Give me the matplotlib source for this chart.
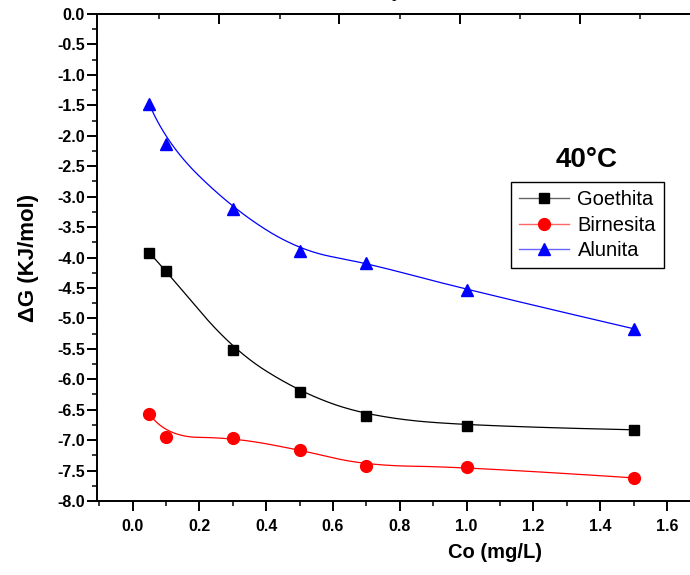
import numpy as np
import matplotlib
matplotlib.use("Agg")
import matplotlib.pyplot as plt
from matplotlib.lines import Line2D
from matplotlib.legend_handler import HandlerTuple
from matplotlib.ticker import MultipleLocator, FixedLocator, NullFormatter, FormatStrFormatter

# ---- data ----
co = [0.05, 0.1, 0.3, 0.5, 0.7, 1.0, 1.5]
goethita = [-3.92, -4.22, -5.52, -6.21, -6.60, -6.77, -6.83]
birnesita = [-6.57, -6.95, -6.96, -7.16, -7.42, -7.44, -7.62]
alunita = [-1.48, -2.13, -3.20, -3.89, -4.09, -4.53, -5.17]
labels = ["Goethita", "Birnesita", "Alunita"]
title_text = "40°C"


def bspline(xs, ys, n=400, k=3):
    P = np.column_stack([xs, ys])
    m = len(P)
    knots = np.concatenate([np.zeros(k), np.linspace(0, 1, m - k + 1), np.ones(k)])
    t = np.linspace(0, 1, n)
    t[-1] = 1 - 1e-10
    B = np.zeros((n, len(knots) - 1))
    for i in range(len(knots) - 1):
        B[:, i] = (t >= knots[i]) & (t < knots[i + 1])
    for d in range(1, k + 1):
        Bn = np.zeros((n, len(knots) - 1 - d))
        for i in range(len(knots) - 1 - d):
            a = knots[i + d] - knots[i]
            b = knots[i + d + 1] - knots[i + 1]
            term = np.zeros(n)
            if a > 0:
                term += (t - knots[i]) / a * B[:, i]
            if b > 0:
                term += (knots[i + d + 1] - t) / b * B[:, i + 1]
            Bn[:, i] = term
        B = Bn
    C = B @ P
    return C[:, 0], C[:, 1]


plt.rcParams['font.family'] = ['Liberation Sans', 'DejaVu Sans']

W, H = 690, 575
fig = plt.figure(figsize=(W / 100, H / 100), dpi=100)
ax_left_px, ax_right_px = 97.5, 697
ax_w_px = ax_right_px - ax_left_px
ax = fig.add_axes([ax_left_px / W, 1 - 501 / H, ax_w_px / W, (501 - 14) / H])

series = [(goethita, 'black', 's', 7.5), (birnesita, 'red', 'o', 8.5), (alunita, 'blue', '^', 9)]
handles = []
for (vals, col, mk, ms), lab in zip(series, labels):
    sx, sy = bspline(co, vals, k=2)
    ax.plot(sx, sy, color=col, lw=0.9, zorder=2)
    ax.plot(co, vals, linestyle='none', marker=mk, color=col, markersize=ms, zorder=3)
    h_line = Line2D([], [], color=col, lw=1.0, alpha=0.6)
    h_mark = Line2D([], [], color=col, linestyle='none', marker=mk, markersize=ms)
    handles.append((h_line, h_mark))

ax.set_xlim(-0.105, 1.69)
ax.set_ylim(-8.0, 0.0)
ax.xaxis.set_major_locator(MultipleLocator(0.2))
ax.xaxis.set_minor_locator(MultipleLocator(0.1))
ax.yaxis.set_major_locator(MultipleLocator(0.5))
ax.yaxis.set_minor_locator(MultipleLocator(0.25))
ax.xaxis.set_major_formatter(FormatStrFormatter('%.1f'))
ax.yaxis.set_major_formatter(FormatStrFormatter('%.1f'))

ax.spines['right'].set_visible(False)
for s in ['left', 'bottom', 'top']:
    ax.spines[s].set_linewidth(1.4)
ax.tick_params(axis='both', which='major', direction='out', length=7, width=1.4,
               labelsize=11.5, pad=2)
ax.tick_params(axis='both', which='minor', direction='out', length=3.5, width=1.1)
ax.tick_params(axis='x', which='both', top=False)
ax.tick_params(axis='x', which='major', pad=6)
for lbl in ax.get_xticklabels() + ax.get_yticklabels():
    lbl.set_fontweight('bold')

ax.set_xlabel('Co (mg/L)', fontsize=14.5, fontweight='bold')
ax.xaxis.set_label_coords((495 - ax_left_px) / ax_w_px, (501 - 543) / 487)
ax.set_ylabel('ΔG (KJ/mol)', fontsize=16, fontweight='bold')
ax.yaxis.set_label_coords((39 - ax_left_px) / ax_w_px, 0.5)

# remnants of the panel above (its bottom axis along the top edge)
axt = ax.twiny()
axt.set_xlim(ax_left_px, ax_right_px)
axt.xaxis.set_major_locator(FixedLocator([219, 339, 460, 580]))
axt.xaxis.set_minor_locator(FixedLocator([159, 280, 400, 520, 640]))
axt.xaxis.set_major_formatter(NullFormatter())
axt.tick_params(axis='x', which='major', direction='in', length=7, width=1.4)
axt.tick_params(axis='x', which='minor', direction='in', length=3.5, width=1.1)
for s in ['left', 'right', 'bottom']:
    axt.spines[s].set_visible(False)
axt.spines['top'].set_linewidth(1.4)

fig.text(396 / W, 1 + 3 / H, 'p', family='Liberation Serif', fontsize=13,
         ha='center', va='baseline')

fig.text(587 / W, 1 - 160 / H, title_text, fontsize=20, fontweight='bold',
         ha='center', va='center')

leg = ax.legend(handles, labels, loc='upper left',
                handler_map={tuple: HandlerTuple(ndivide=1, pad=0)},
                bbox_to_anchor=((511 - ax_left_px) / ax_w_px, 1 - (182 - 14) / 487),
                fontsize=14.5, frameon=True, fancybox=False, edgecolor='black',
                handlelength=2.5, handletextpad=0.4, borderpad=0.4, labelspacing=0.33,
                borderaxespad=0)
leg.get_frame().set_linewidth(1.0)
leg.get_frame().set_alpha(1)

fig.savefig('out.png', dpi=100)
